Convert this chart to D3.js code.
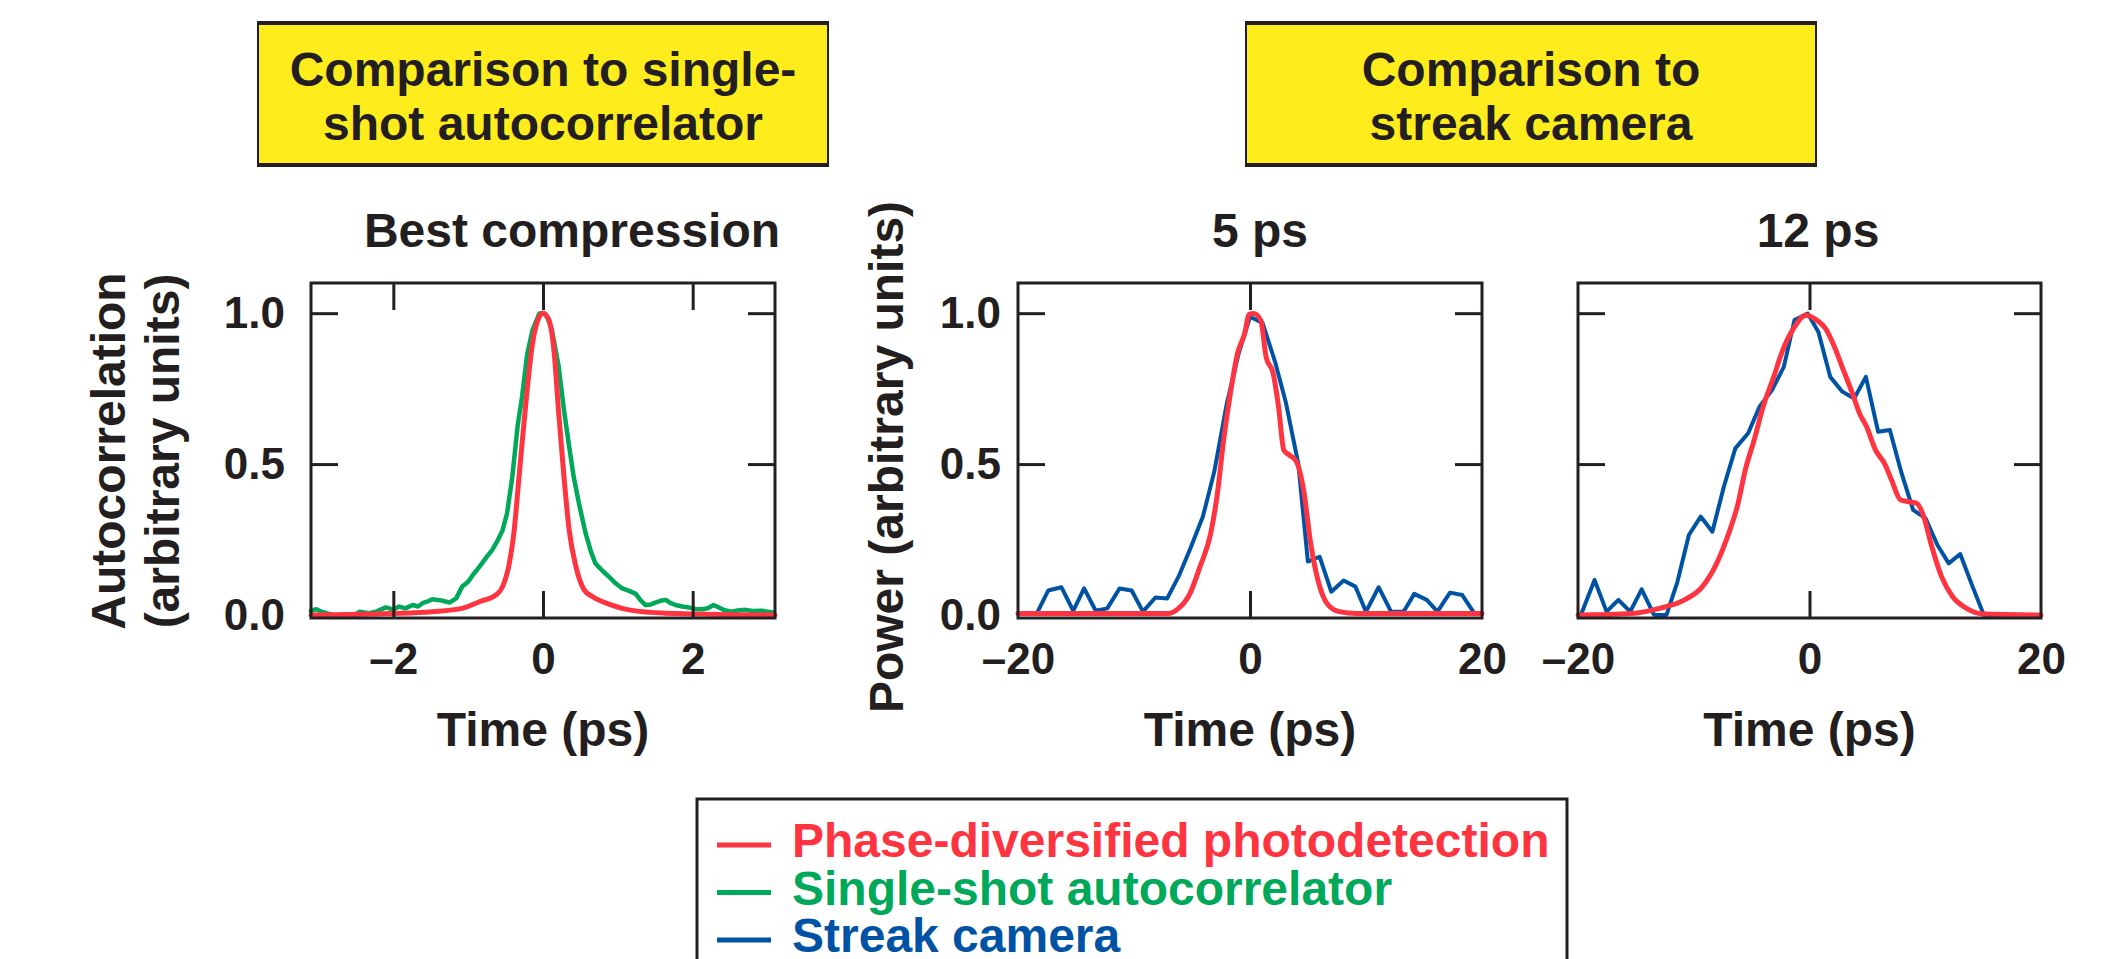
<!DOCTYPE html>
<html>
<head>
<meta charset="utf-8">
<script src="https://cdn.jsdelivr.net/npm/d3@7"></script>
<style>
  body { margin: 0; background: #fff; }
  svg { display: block; }
  text { font-family: "Liberation Sans", Arial, Helvetica, sans-serif; font-weight: bold; }
</style>
</head>
<body>
<div id="chart"></div>
<script>
// ---- data ----
const yTicks = [0, 0.5, 1.0];

// Best compression (autocorrelation)
const pdpBestT = [-3.1,-2.05,-1.48,-1.08,-0.85,-0.63,-0.54,-0.45,-0.39,-0.32,-0.23,-0.14,-0.05,0,0.08,0.15,0.21,0.28,0.35,0.44,0.55,0.66,0.92,1.15,1.64,3.1];
const pdpBestV = [0,0.005,0.011,0.022,0.044,0.066,0.094,0.171,0.27,0.458,0.70,0.90,0.988,1.0,0.977,0.866,0.668,0.458,0.281,0.16,0.083,0.061,0.033,0.017,0.006,0];

const sscT = [-3.1,-3.03,-2.95,-2.81,-2.65,-2.54,-2.45,-2.33,-2.23,-2.1,
  -2.0,-1.92,-1.84,-1.74,-1.67,-1.61,-1.55,-1.48,-1.41,-1.34,
  -1.25,-1.16,-1.08,-1.0,-0.94,-0.88,-0.83,-0.76,-0.68,-0.6,
  -0.54,-0.48,-0.41,-0.34,-0.28,-0.21,-0.14,-0.05,0.01,0.06,
  0.12,0.21,0.28,0.35,0.41,0.48,0.57,0.64,0.70,0.80,
  0.88,0.97,1.06,1.15,1.24,1.30,1.37,1.44,1.50,1.57,
  1.64,1.70,1.77,1.86,1.95,2.04,2.12,2.20,2.28,2.35,
  2.41,2.52,2.60,2.70,2.80,2.92,3.00,3.08];
const sscV = [0.014,0.019,0.010,0.0,-0.004,-0.005,0.011,0.006,0.011,0.025,
  0.018,0.028,0.022,0.033,0.028,0.039,0.044,0.052,0.05,0.047,
  0.041,0.055,0.094,0.11,0.132,0.15,0.166,0.19,0.215,0.25,
  0.281,0.337,0.458,0.624,0.723,0.866,0.944,0.999,1.0,0.985,
  0.944,0.822,0.679,0.557,0.458,0.37,0.27,0.21,0.171,0.145,
  0.127,0.105,0.088,0.08,0.07,0.05,0.033,0.035,0.041,0.047,
  0.05,0.04,0.033,0.028,0.025,0.02,0.019,0.022,0.033,0.025,
  0.017,0.011,0.015,0.017,0.013,0.014,0.011,0.008];

// 5 ps
const streak5T = [-18.3,-17.4,-16.26,-15.24,-14.3,-13.3,-12.3,-11.24,-10.2,-9.23,
  -8.15,-7.14,-6.16,-5.08,-4.06,-3.08,-2.0,-0.98,0,1.08,
  2.16,3.08,4.16,4.99,6.0,7.01,8.07,9.09,10.0,11.09,
  12.16,13.24,14.16,15.24,16.16,17.24,18.3,19.24];
const streak5V = [0.011,0.081,0.092,0.014,0.088,0.014,0.022,0.088,0.081,0.011,
  0.058,0.055,0.127,0.226,0.326,0.475,0.70,0.866,0.988,0.968,
  0.839,0.706,0.502,0.177,0.193,0.077,0.114,0.094,0.011,0.092,
  0.011,0.011,0.07,0.05,0.011,0.074,0.066,0.011];
const pdp5T = [-20,-7.08,-6.16,-5.24,-4.31,-3.39,-2.77,-2.31,-1.69,-1.08,-0.46,-0.06,0.31,0.92,1.39,2.0,2.46,2.92,3.39,4.0,4.62,5.23,5.85,6.62,7.7,9.2,20];
const pdp5V = [0.005,0.005,0.022,0.066,0.16,0.27,0.414,0.568,0.734,0.866,0.933,0.997,0.999,0.977,0.855,0.80,0.69,0.546,0.53,0.508,0.414,0.237,0.116,0.039,0.011,0.005,0.005];

// 12 ps
const streak12T = [-19.75,-18.57,-17.53,-16.51,-15.49,-14.5,-13.43,-12.35,-11.41,-10.42,
  -9.4,-8.39,-7.4,-6.41,-5.3,-4.32,-3.24,-2.22,-1.3,-0.15,
  0.77,1.79,2.84,3.85,4.87,5.93,6.94,7.96,8.95,10.03,
  11.05,12.03,13.02,14.04,15.06,20];
const streak12V = [0,0.116,0.011,0.05,0.011,0.085,0,0,0.11,0.265,
  0.326,0.276,0.425,0.552,0.602,0.69,0.745,0.822,0.977,0.999,
  0.938,0.789,0.74,0.717,0.789,0.607,0.613,0.469,0.348,0.32,
  0.232,0.171,0.202,0.099,0,0];
const pdp12T = [-20,-15.43,-12.96,-10.8,-9.25,-8.02,-7.09,-6.17,-5.55,-4.78,
  -4.01,-3.09,-2.32,-1.39,-0.31,0.61,1.39,2.16,2.93,3.71,
  4.32,4.93,5.71,6.48,7.09,7.87,9.25,9.87,10.49,11.41,
  12.35,13.57,15.12,20];
const pdp12V = [0,0.005,0.022,0.05,0.094,0.171,0.259,0.37,0.48,0.58,
  0.69,0.789,0.877,0.949,0.993,0.977,0.949,0.888,0.811,0.734,
  0.668,0.624,0.546,0.502,0.447,0.381,0.37,0.326,0.237,0.127,
  0.061,0.022,0.003,0];

const legendLabels = ["Phase-diversified photodetection", "Single-shot autocorrelator", "Streak camera"];

// ---- styling ----
const ink = "#231f20", red = "#ff3441", green = "#00a85a", blue = "#0053a4", yellow = "#ffec1c";
const fontBig = 48, fontTick = 44;

const svg = d3.select("#chart").append("svg")
    .attr("width", 2122)
    .attr("height", 959);

const zip = (t, v) => t.map((d, i) => [d, v[i]]);

const y = d3.scaleLinear().domain([-0.01, 1.1]).range([618, 283]);
const fmtX = d => d < 0 ? "\u2013" + Math.abs(d) : String(d);

const panels = [
  {x0: 311, x1: 775, dom: [-3.1, 3.1], tickLines: [-2, 0, 2], tickLabels: [-2, 0, 2],
   title: "Best compression", titleX: 572, yLabelGap: 26,
   series: [{d: zip(sscT, sscV), color: green, w: 4.5, curve: d3.curveLinear},
            {d: zip(pdpBestT, pdpBestV), color: red, w: 5, curve: d3.curveMonotoneX}]},
  {x0: 1018, x1: 1482, dom: [-20, 20], tickLines: [0], tickLabels: [-20, 0, 20],
   title: "5 ps", titleX: 1260, yLabelGap: 17,
   series: [{d: zip(streak5T, streak5V), color: blue, w: 4, curve: d3.curveLinear},
            {d: zip(pdp5T, pdp5V), color: red, w: 5, curve: d3.curveMonotoneX}]},
  {x0: 1578, x1: 2041, dom: [-20, 20], tickLines: [0], tickLabels: [-20, 0, 20],
   title: "12 ps", titleX: 1818, yLabelGap: null,
   series: [{d: zip(streak12T, streak12V), color: blue, w: 4, curve: d3.curveLinear},
            {d: zip(pdp12T, pdp12V), color: red, w: 5, curve: d3.curveMonotoneX}]}
];

function styleAxis(g) {
  g.select(".domain").remove();
  g.attr("color", ink)
    .attr("font-family", null)
    .attr("font-size", fontTick);
  g.selectAll(".tick line").attr("stroke-width", 3);
}

panels.forEach(p => {
  const x = d3.scaleLinear().domain(p.dom).range([p.x0, p.x1]);
  const g = svg.append("g");

  // curves
  p.series.forEach(s => {
    g.append("path")
      .datum(s.d)
      .attr("fill", "none")
      .attr("stroke", s.color)
      .attr("stroke-width", s.w)
      .attr("stroke-linejoin", "round")
      .attr("stroke-linecap", "round")
      .attr("d", d3.line().x(d => x(d[0])).y(d => y(d[1])).curve(s.curve));
  });

  // frame
  g.append("rect")
    .attr("x", p.x0).attr("y", 283)
    .attr("width", p.x1 - p.x0).attr("height", 618 - 283)
    .attr("fill", "none").attr("stroke", ink).attr("stroke-width", 3);

  // inward tick marks
  g.append("g").attr("transform", "translate(0,618)")
    .call(d3.axisBottom(x).tickValues(p.tickLines).tickSize(-27).tickFormat(""))
    .call(styleAxis);
  g.append("g").attr("transform", "translate(0,283)")
    .call(d3.axisTop(x).tickValues(p.tickLines).tickSize(-27).tickFormat(""))
    .call(styleAxis);
  g.append("g").attr("transform", `translate(${p.x0},0)`)
    .call(d3.axisLeft(y).tickValues([0.5, 1.0]).tickSize(-27).tickFormat(""))
    .call(styleAxis);
  g.append("g").attr("transform", `translate(${p.x1},0)`)
    .call(d3.axisRight(y).tickValues([0.5, 1.0]).tickSize(-27).tickFormat(""))
    .call(styleAxis);

  // tick labels
  g.append("g").attr("transform", "translate(0,618)")
    .call(d3.axisBottom(x).tickValues(p.tickLabels).tickSize(0).tickPadding(25).tickFormat(fmtX))
    .call(styleAxis);
  if (p.yLabelGap !== null) {
    g.append("g").attr("transform", `translate(${p.x0},0)`)
      .call(d3.axisLeft(y).tickValues(yTicks).tickSize(0).tickPadding(p.yLabelGap).tickFormat(d3.format(".1f")))
      .call(styleAxis);
  }

  // titles
  g.append("text")
    .attr("x", p.titleX).attr("y", 247)
    .attr("text-anchor", "middle")
    .attr("font-size", fontBig).attr("fill", ink)
    .text(p.title);
  g.append("text")
    .attr("x", (p.x0 + p.x1) / 2).attr("y", 746)
    .attr("text-anchor", "middle")
    .attr("font-size", fontBig).attr("fill", ink)
    .text("Time (ps)");
});

// y-axis titles
svg.append("text")
  .attr("transform", "translate(125,451) rotate(-90)")
  .attr("text-anchor", "middle").attr("font-size", fontBig).attr("fill", ink)
  .text("Autocorrelation");
svg.append("text")
  .attr("transform", "translate(179,451) rotate(-90)")
  .attr("text-anchor", "middle").attr("font-size", fontBig).attr("fill", ink)
  .text("(arbitrary units)");
svg.append("text")
  .attr("transform", "translate(903,457) rotate(-90)")
  .attr("text-anchor", "middle").attr("font-size", fontBig).attr("fill", ink)
  .text("Power (arbitrary units)");

// yellow header boxes
const boxes = [
  {x0: 258, x1: 828, lines: ["Comparison to single-", "shot autocorrelator"]},
  {x0: 1246, x1: 1816, lines: ["Comparison to", "streak camera"]}
];
boxes.forEach(b => {
  svg.append("rect")
    .attr("x", b.x0).attr("y", 23)
    .attr("width", b.x1 - b.x0).attr("height", 142)
    .attr("fill", yellow).attr("stroke", ink).attr("stroke-width", 2);
  [23, 165].forEach(yy => {
    svg.append("line")
      .attr("x1", b.x0 - 1).attr("x2", b.x1 + 1)
      .attr("y1", yy).attr("y2", yy)
      .attr("stroke", ink).attr("stroke-width", 4);
  });
  b.lines.forEach((t, i) => {
    svg.append("text")
      .attr("x", (b.x0 + b.x1) / 2).attr("y", 86 + i * 54)
      .attr("text-anchor", "middle")
      .attr("font-size", fontBig).attr("fill", ink)
      .text(t);
  });
});

// legend
const legendColors = [red, green, blue];
svg.append("rect")
  .attr("x", 697).attr("y", 799)
  .attr("width", 870).attr("height", 220)
  .attr("fill", "none").attr("stroke", ink).attr("stroke-width", 3);
const leg = svg.append("g").selectAll("g")
  .data(legendLabels)
  .enter()
  .append("g")
    .attr("transform", (d, i) => `translate(0,${857 + i * 47.5})`);
leg.append("line")
  .attr("x1", 717).attr("x2", 771)
  .attr("y1", -12).attr("y2", -12)
  .attr("stroke", (d, i) => legendColors[i]).attr("stroke-width", 5);
leg.append("text")
  .attr("x", 792).attr("y", 0)
  .attr("font-size", fontBig)
  .attr("fill", (d, i) => legendColors[i])
  .text(d => d);
</script>
</body>
</html>
